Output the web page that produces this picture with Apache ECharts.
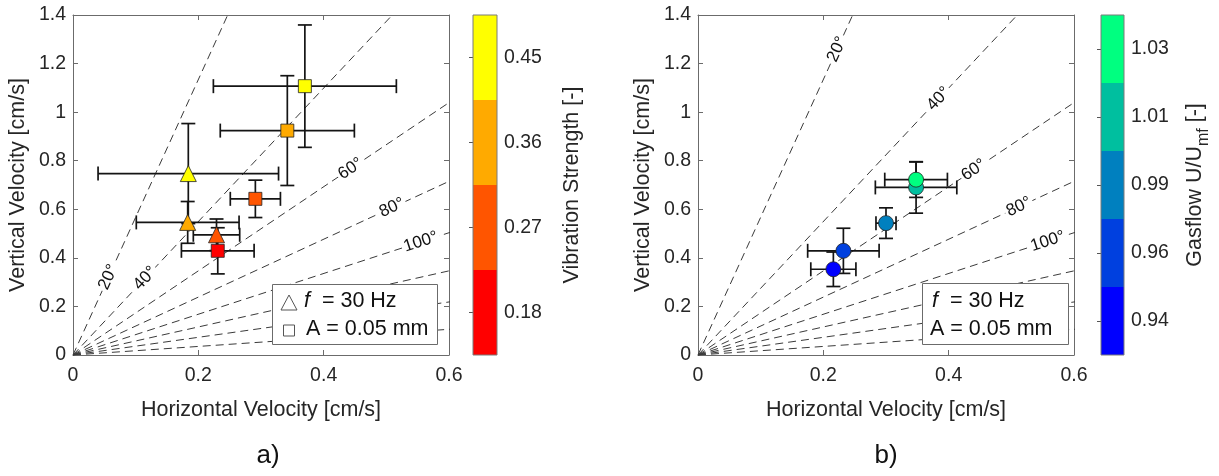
<!DOCTYPE html>
<html>
<head>
<meta charset="utf-8">
<script src="https://cdn.jsdelivr.net/npm/echarts@6/dist/echarts.min.js"></script>
<style>
  html, body { margin: 0; padding: 0; background: #ffffff; }
  #chart { width: 1219px; height: 476px; }
</style>
</head>
<body>
<div id="chart"></div>
<script>
// ---- axis ticks ----
const xTicks = [0, 0.2, 0.4, 0.6];
const yTicks = [0, 0.2, 0.4, 0.6, 0.8, 1.0, 1.2, 1.4];

// ---- reference direction lines through the origin, labelled in degrees ----
const angleLabels = [20, 40, 60, 80, 100, 120, 140, 160];
// horizontal velocity at which each of the first five angle labels sits
const angleLabelXa = [0.0565, 0.115, 0.443, 0.509, 0.555];
const angleLabelXb = [0.222, 0.384, 0.44, 0.512, 0.558];

// ---- panel a: colour bar (vibration strength) ----
const strengthLevels = ['0.18', '0.27', '0.36', '0.45'];
const strengthColors = ['#FF0000', '#FF5500', '#FFAA00', '#FFFF00'];

// panel a, triangles
const triX = [0.184, 0.183, 0.229];
const triY = [0.747, 0.546, 0.495];
const triXErr = [0.144, 0.082, 0.037];
const triYErr = [0.206, 0.086, 0.065];
const triStrength = ['0.45', '0.36', '0.27'];

// panel a, squares
const sqX = [0.370, 0.342, 0.291, 0.231];
const sqY = [1.107, 0.924, 0.643, 0.429];
const sqXErr = [0.146, 0.107, 0.040, 0.058];
const sqYErr = [0.252, 0.226, 0.077, 0.095];
const sqStrength = ['0.45', '0.36', '0.27', '0.18'];

// ---- panel b: colour bar (gas flow) ----
const gasLevels = ['0.94', '0.96', '0.99', '1.01', '1.03'];
const gasColors = ['#0000FF', '#0040DF', '#0080BF', '#00BF9F', '#00FF80'];

// panel b, circles
const cirX = [0.216, 0.232, 0.300, 0.348, 0.348];
const cirY = [0.353, 0.429, 0.543, 0.690, 0.722];
const cirXErr = [0.036, 0.057, 0.016, 0.065, 0.050];
const cirYErr = [0.071, 0.093, 0.063, 0.106, 0.073];
const cirGas = ['0.94', '0.96', '0.99', '1.01', '1.03'];

// ---- styling ----
const FONT = '"Liberation Sans", Arial, Helvetica, sans-serif';
const AXIS_COLOR = '#6b6b6b';
const TEXT_COLOR = '#262626';
const TICK_FONT = 19.5;
const LABEL_FONT = 21.5;

function errorBarItem(params, api) {
  const x = api.value(0), y = api.value(1), ex = api.value(2), ey = api.value(3);
  const l = api.coord([x - ex, y]), r = api.coord([x + ex, y]);
  const t = api.coord([x, y + ey]), b = api.coord([x, y - ey]);
  const c = 7;
  const style = { stroke: '#141414', lineWidth: 1.7, fill: null };
  const seg = (x1, y1, x2, y2) => ({ type: 'line', shape: { x1, y1, x2, y2 }, style });
  return {
    type: 'group',
    children: [
      seg(l[0], l[1], r[0], r[1]),
      seg(l[0], l[1] - c, l[0], l[1] + c),
      seg(r[0], r[1] - c, r[0], r[1] + c),
      seg(t[0], t[1], b[0], b[1]),
      seg(t[0] - c, t[1], t[0] + c, t[1]),
      seg(b[0] - c, b[1], b[0] + c, b[1])
    ]
  };
}

function slopeOf(label) {
  return 1 / Math.tan((label / 2) * Math.PI / 180);
}

function angleLabelItem(params, api) {
  const deg = api.value(0), xp = api.value(1);
  const p = api.coord([xp, xp * slopeOf(deg)]);
  const o = api.coord([0, 0]);
  const rot = Math.atan2(o[1] - p[1], p[0] - o[0]);
  return {
    type: 'text',
    x: p[0], y: p[1], rotation: rot,
    style: {
      text: deg + '°', fill: '#111', font: '17px ' + FONT,
      align: 'center', verticalAlign: 'middle',
      backgroundColor: '#ffffff', padding: [0, 2]
    },
    z2: 5
  };
}

function guideLines(xi, yi) {
  return angleLabels.map(function (deg) {
    const th = (deg / 2) * Math.PI / 180;
    return {
      type: 'line', xAxisIndex: xi, yAxisIndex: yi,
      data: [[0, 0], [3 * Math.sin(th), 3 * Math.cos(th)]],
      symbol: 'none', clip: true, silent: true, z: 1,
      lineStyle: { color: '#3a3a3a', width: 1, type: [8, 5] },
      animation: false
    };
  });
}

function errorSeries(xi, yi, xs, ys, exs, eys) {
  return {
    type: 'custom', xAxisIndex: xi, yAxisIndex: yi, z: 3, clip: true,
    renderItem: errorBarItem,
    data: xs.map((x, i) => [x, ys[i], exs[i], eys[i]]),
    animation: false
  };
}

function markerSeries(xi, yi, xs, ys, keys, levels, colors, symbol, size) {
  return {
    type: 'scatter', xAxisIndex: xi, yAxisIndex: yi, z: 4,
    symbol: symbol, symbolSize: size,
    data: xs.map((x, i) => ({
      value: [x, ys[i]],
      itemStyle: { color: colors[levels.indexOf(keys[i])], borderColor: '#222', borderWidth: 0.8, opacity: 1 }
    })),
    animation: false
  };
}

function angleLabelSeries(xi, yi, xs) {
  return {
    type: 'custom', xAxisIndex: xi, yAxisIndex: yi, z: 2, clip: false,
    renderItem: angleLabelItem,
    data: xs.map((x, i) => [angleLabels[i], x]),
    animation: false
  };
}

function colorBarSeries(xi, yi, levels, colors) {
  return {
    type: 'bar', xAxisIndex: xi, yAxisIndex: yi, barWidth: '100%', barCategoryGap: 0,
    data: levels.map((l, i) => ({ value: 1, itemStyle: { color: colors[i] } })),
    silent: true, animation: false
  };
}

const plotGrid = (left) => ({ left: left, top: 15, width: 376, height: 340, containLabel: false });
const barGrid = (left, width) => ({
  left: left, top: 15, width: width, height: 340,
  show: true, borderColor: '#7a7a7a', borderWidth: 1, backgroundColor: 'transparent', z: 10
});

function valueX(gridIndex, pos, withLabels) {
  return {
    type: 'value', gridIndex: gridIndex, position: pos,
    min: xTicks[0], max: xTicks[xTicks.length - 1], interval: xTicks[1] - xTicks[0],
    name: withLabels ? 'Horizontal Velocity [cm/s]' : '',
    nameLocation: 'middle', nameGap: 44,
    nameTextStyle: { fontFamily: FONT, fontSize: LABEL_FONT, color: TEXT_COLOR },
    axisLine: { show: true, onZero: false, lineStyle: { color: AXIS_COLOR, width: 1 } },
    axisTick: { show: true, inside: true, length: 5, lineStyle: { color: AXIS_COLOR } },
    axisLabel: { show: withLabels, fontFamily: FONT, fontSize: TICK_FONT, color: TEXT_COLOR, margin: 11 },
    splitLine: { show: false }
  };
}

function valueY(gridIndex, pos, withLabels) {
  return {
    type: 'value', gridIndex: gridIndex, position: pos,
    min: yTicks[0], max: yTicks[yTicks.length - 1], interval: yTicks[1] - yTicks[0],
    name: withLabels ? 'Vertical Velocity [cm/s]' : '',
    nameLocation: 'middle', nameGap: 44, nameRotate: 90,
    nameTextStyle: { fontFamily: FONT, fontSize: LABEL_FONT, color: TEXT_COLOR },
    axisLine: { show: true, onZero: false, lineStyle: { color: AXIS_COLOR, width: 1 } },
    axisTick: { show: true, inside: true, length: 5, lineStyle: { color: AXIS_COLOR } },
    axisLabel: { show: withLabels, fontFamily: FONT, fontSize: TICK_FONT, color: TEXT_COLOR, margin: 7 },
    splitLine: { show: false }
  };
}

function barX(gridIndex) {
  return { type: 'value', gridIndex: gridIndex, min: 0, max: 1, show: false };
}

function barY(gridIndex, levels, name, gap) {
  return {
    type: 'category', gridIndex: gridIndex, position: 'right', data: levels,
    name: name, nameLocation: 'middle', nameGap: gap, nameRotate: 90,
    nameTextStyle: {
      fontFamily: FONT, fontSize: LABEL_FONT, color: TEXT_COLOR,
      rich: { sub: { fontFamily: FONT, fontSize: 16, color: TEXT_COLOR, verticalAlign: 'bottom', lineHeight: 34 } }
    },
    axisLine: { show: false },
    axisTick: { show: true, inside: true, alignWithLabel: true, length: 4, lineStyle: { color: '#555' } },
    axisLabel: { fontFamily: FONT, fontSize: TICK_FONT, color: TEXT_COLOR, margin: 7 },
    splitLine: { show: false }
  };
}

const legendText = (x, y, rich) => ({
  type: 'text', left: x, top: y,
  style: {
    text: rich, font: LABEL_FONT + 'px ' + FONT, fill: '#111',
    rich: { i: { fontStyle: 'italic', fontFamily: FONT, fontSize: LABEL_FONT, fill: '#111' } }
  }
});

const option = {
  backgroundColor: '#ffffff',
  animation: false,
  grid: [plotGrid(73), plotGrid(698), barGrid(473, 24), barGrid(1101, 23)],
  xAxis: [valueX(0, 'bottom', true), valueX(0, 'top', false), valueX(1, 'bottom', true), valueX(1, 'top', false), barX(2), barX(3)],
  yAxis: [
    valueY(0, 'left', true), valueY(0, 'right', false), valueY(1, 'left', true), valueY(1, 'right', false),
    barY(2, strengthLevels, 'Vibration Strength [-]', 64),
    barY(3, gasLevels, 'Gasflow U/U{sub|mf} [-]', 54)
  ],
  series: [].concat(
    guideLines(0, 0),
    guideLines(2, 2),
    [
      angleLabelSeries(0, 0, angleLabelXa),
      angleLabelSeries(2, 2, angleLabelXb),
      errorSeries(0, 0, triX, triY, triXErr, triYErr),
      errorSeries(0, 0, sqX, sqY, sqXErr, sqYErr),
      errorSeries(2, 2, cirX, cirY, cirXErr, cirYErr),
      markerSeries(0, 0, sqX, sqY, sqStrength, strengthLevels, strengthColors, 'rect', 13),
      markerSeries(0, 0, triX, triY, triStrength, strengthLevels, strengthColors, 'triangle', 16),
      markerSeries(2, 2, cirX, cirY, cirGas, gasLevels, gasColors, 'circle', 15),
      colorBarSeries(4, 4, strengthLevels, strengthColors),
      colorBarSeries(5, 5, gasLevels, gasColors)
    ]
  ),
  graphic: [
    // legend, panel a
    { type: 'rect', left: 272, top: 284, shape: { width: 165, height: 60 },
      style: { fill: '#ffffff', stroke: '#6b6b6b', lineWidth: 1 }, z: 20 },
    { type: 'polygon', shape: { points: [[289, 295], [281, 310], [297, 310]] },
      style: { fill: '#ffffff', stroke: '#555', lineWidth: 1 }, z: 21 },
    { type: 'rect', shape: { x: 283.5, y: 325, width: 11, height: 11 },
      style: { fill: '#ffffff', stroke: '#555', lineWidth: 1 }, z: 21 },
    Object.assign(legendText(304, 290, '{i|f}  = 30 Hz'), { z: 21 }),
    Object.assign(legendText(306, 318, 'A = 0.05 mm'), { z: 21 }),
    // legend, panel b
    { type: 'rect', left: 922, top: 283, shape: { width: 146, height: 61 },
      style: { fill: '#ffffff', stroke: '#6b6b6b', lineWidth: 1 }, z: 20 },
    Object.assign(legendText(932, 290, '{i|f}  = 30 Hz'), { z: 21 }),
    Object.assign(legendText(930, 318, 'A = 0.05 mm'), { z: 21 }),
    // panel captions
    { type: 'text', x: 268, y: 456, style: { text: 'a)', font: '26px ' + FONT, fill: '#111', align: 'center', verticalAlign: 'middle' } },
    { type: 'text', x: 886, y: 456, style: { text: 'b)', font: '26px ' + FONT, fill: '#111', align: 'center', verticalAlign: 'middle' } }
  ]
};

const chart = echarts.init(document.getElementById('chart'), null, { renderer: 'canvas' });
chart.setOption(option);
</script>
</body>
</html>
